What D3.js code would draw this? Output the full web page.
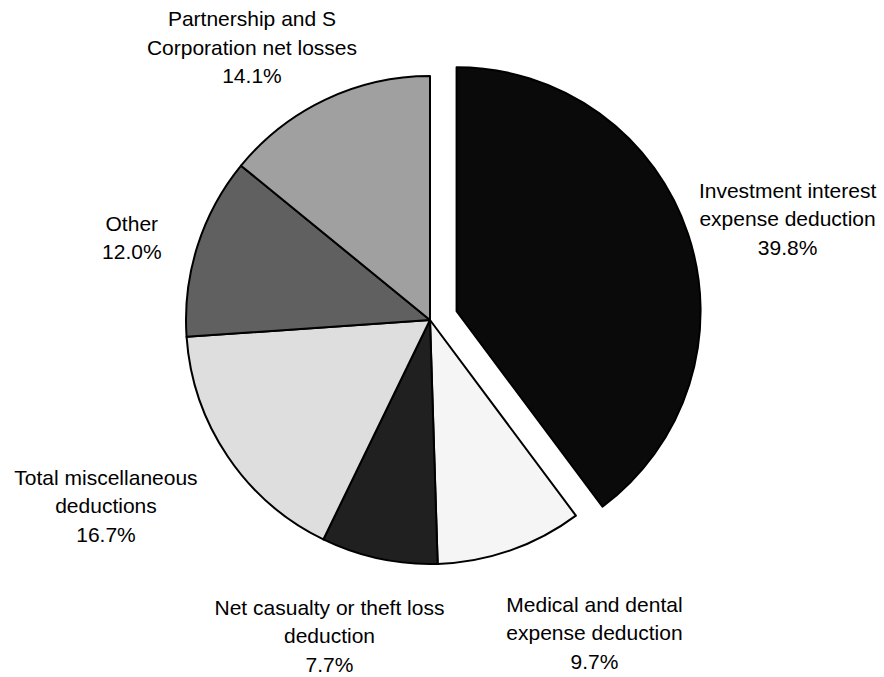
<!DOCTYPE html>
<html>
<head>
<meta charset="utf-8">
<script src="https://cdn.jsdelivr.net/npm/d3@7"></script>
<style>
  html, body { margin: 0; padding: 0; background: #fff; }
  svg { display: block; }
  text { font-family: Arial, "Liberation Sans", sans-serif; font-size: 21px; fill: #000; }
</style>
</head>
<body>
<svg id="chart" width="884" height="677"></svg>
<script>
// Share of the total, clockwise from twelve o'clock
const categories = [
  ["Investment interest", "expense deduction"],
  ["Medical and dental", "expense deduction"],
  ["Net casualty or theft loss", "deduction"],
  ["Total miscellaneous", "deductions"],
  ["Other"],
  ["Partnership and S", "Corporation net losses"]
];
const shares = [39.8, 9.7, 7.7, 16.7, 12.0, 14.1];
const shareLabels = ["39.8%", "9.7%", "7.7%", "16.7%", "12.0%", "14.1%"];
const fills = ["#0a0a0a", "#f5f5f5", "#202020", "#dedede", "#606060", "#a0a0a0"];
const exploded = [true, false, false, false, false, false];

// Layout settings
const cx = 430, cy = 320, radius = 244, explodeBy = 28;
const labelGap = 36, lineHeight = 28.5;
const labelNudge = [[-19, 9], [43, 8], [-18, 0], [-16, 5], [-3, 11], [-13, 19]];

const svg = d3.select("#chart");
const g = svg.append("g").attr("transform", `translate(${cx},${cy})`);

const pie = d3.pie().sort(null).value(d => d);
const arcs = pie(shares);
const arc = d3.arc().innerRadius(0).outerRadius(radius);

function dirOf(a) {
  const mid = (a.startAngle + a.endAngle) / 2;
  return [Math.sin(mid), -Math.cos(mid)];
}
function shiftOf(a, i) {
  const [dx, dy] = dirOf(a);
  return exploded[i] ? [dx * explodeBy, dy * explodeBy] : [0, 0];
}

g.selectAll("path.slice")
  .data(arcs)
  .join("path")
  .attr("class", "slice")
  .attr("d", arc)
  .attr("transform", (a, i) => { const s = shiftOf(a, i); return `translate(${s[0]},${s[1]})`; })
  .attr("fill", (a, i) => fills[i])
  .attr("stroke", "#000")
  .attr("stroke-width", 2)
  .attr("stroke-linejoin", "round");

// Labels sit just outside each slice, pushed outward by half their box
const labels = g.selectAll("text.lbl")
  .data(arcs)
  .join("text")
  .attr("class", "lbl")
  .attr("text-anchor", "middle");

labels.each(function (a, i) {
  const lines = categories[i].concat([shareLabels[i]]);
  const t = d3.select(this);
  lines.forEach((ln, k) => {
    t.append("tspan").attr("x", 0).attr("y", k * lineHeight).text(ln);
  });
  const bb = this.getBBox();
  const w = bb.width, h = lines.length * lineHeight;
  const [dx, dy] = dirOf(a);
  const s = shiftOf(a, i);
  const r = radius + labelGap;
  const bx = s[0] + dx * r + dx * w / 2 + labelNudge[i][0];
  const by = s[1] + dy * r + dy * h / 2 + labelNudge[i][1];
  const firstBase = by - (lines.length - 1) / 2 * lineHeight + 7.5;
  t.selectAll("tspan").attr("x", bx).attr("y", (d, k) => firstBase + k * lineHeight);
});
</script>
</body>
</html>
